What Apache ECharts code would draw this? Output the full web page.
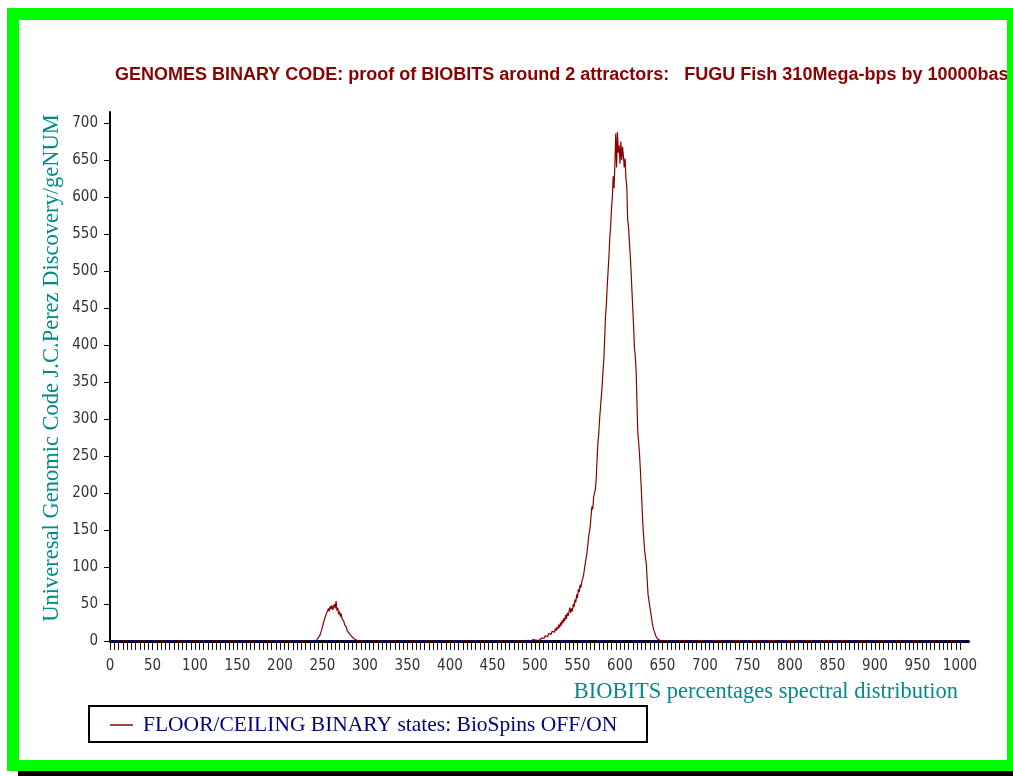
<!DOCTYPE html>
<html><head><meta charset="utf-8">
<script src="https://cdn.jsdelivr.net/npm/echarts@6/dist/echarts.min.js"></script>
<style>html,body{margin:0;padding:0;background:#fff}#c{width:1013px;height:776px}</style>
</head><body><div id="c"></div>
<script>
const titleText = 'GENOMES BINARY CODE: proof of BIOBITS around 2 attractors:   FUGU Fish 310Mega-bps by 10000bases';
const yAxisTitle = 'Univeresal Genomic Code J.C.Perez Discovery/geNUM';
const xAxisTitle = 'BIOBITS percentages spectral distribution';
const seriesName = 'FLOOR/CEILING BINARY states: BioSpins OFF/ON';
const xTickLabels = [0,50,100,150,200,250,300,350,400,450,500,550,600,650,700,750,800,850,900,950,1000];
const yTickLabels = [0,50,100,150,200,250,300,350,400,450,500,550,600,650,700];

// BIOBITS percentage (x) and counts (y)
const bumpX   = [0,240,243,245,247,249,251,253,255,257,258,259,260,261,262,263,264,265,266,267,268,269,270,271,272,273,275,276,278,279,281,283,285,287,289,292];
const bumpY   = [0,0,1,3,8,15,24,32,38,44,40,47,43,48,42,46,50,44,54,41,45,36,40,33,37,30,27,22,19,14,12,8,6,3,1,0];
const riseX   = [488,492,495,498,500,502,504,505,506,507,508,509,510,511,512,513,514,515,516,517,518,519,520,521,522,523,524,525,526,527,528,529,530,531,532,533,534,535,536,537,538,539,540,
                 541,542,543,544,545,546,547,548,549,550,551,552,553,554,555,556,557,558,559,560,561,562,563,564,565,566,567,568,569,570,571,572,573,574,575,576,577,578,579,580];
const riseY   = [0,1,0,2,0,1,2,1,3,2,4,3,6,4,7,5,9,6,10,8,12,9,13,11,15,12,17,14,19,16,22,18,25,21,28,24,31,27,35,30,38,34,36,
                 45,38,44,40,50,46,56,52,63,58,70,66,76,72,80,78,88,96,104,102,118,128,140,138,155,170,182,178,195,200,205,218,245,268,280,300,315,330,345,365];
const peakX   = [581,582,583,584,585,586,587,588,589,590,591,592,593,594,595,596,597,598,599,600,601,602,603,604];
const peakY   = [380,410,440,455,480,500,520,545,560,585,600,628,612,645,686,640,688,660,670,645,675,650,668,655];
const fallX   = [605,606,607,608,609,610,611,612,613,614,615,616,617,618,619,620,621,622,623,624,625,626,627,628,629,630,631,632,633,634,635,636,637,638,639,640,641,642,643,644,645,647,649,1000];
const fallY   = [640,652,625,615,570,560,540,522,500,475,450,425,396,385,365,320,280,268,252,230,207,180,155,138,122,112,104,82,63,55,47,40,32,24,18,14,11,7,5,3,2,1,0,0];

const biobits = bumpX.concat(riseX, peakX, fallX);
const counts = bumpY.concat(riseY, peakY, fallY);

const xTickValues = [];
for (let v = 0; v <= 1000; v += 5) xTickValues.push(v);

const seriesData = biobits.map((x, i) => [x, counts[i]]);

const chart = echarts.init(document.getElementById('c'), null, {renderer: 'canvas'});
chart.setOption({
  animation: false,
  backgroundColor: '#ffffff',
  grid: {left: 110, right: 44.5, top: 112, bottom: 135, containLabel: false},
  legend: {
    left: 110, top: 714, padding: 0,
    icon: 'rect', itemWidth: 23, itemHeight: 1.5,
    textStyle: {fontFamily: 'Liberation Serif', fontSize: 21.5, color: '#000080', padding: [0, 0, 0, 5]},
    data: [seriesName]
  },
  xAxis: {
    type: 'value', min: 0, max: 1010,
    axisLine: {show: true, lineStyle: {color: '#000', width: 3}},
    axisTick: {show: true, customValues: xTickValues, length: 9, lineStyle: {color: '#111', width: 1}},
    axisLabel: {customValues: xTickLabels, formatter: (v) => String(v), margin: 18, fontFamily: "'DejaVu Sans Condensed', 'Liberation Sans'", fontSize: 15, color: '#333'},
    splitLine: {show: false}
  },
  yAxis: {
    type: 'value', min: 0, max: 715,
    axisLine: {show: true, lineStyle: {color: '#000', width: 2}},
    axisTick: {show: true, customValues: yTickLabels, length: 6, lineStyle: {color: '#000', width: 1}},
    axisLabel: {customValues: yTickLabels, formatter: (v) => String(v), margin: 12, fontFamily: "'DejaVu Sans Condensed', 'Liberation Sans'", fontSize: 15, color: '#333'},
    splitLine: {show: false}
  },
  series: [{
    name: seriesName,
    type: 'line',
    data: seriesData,
    symbol: 'none',
    lineStyle: {color: '#8b0000', width: 1.2},
    itemStyle: {color: '#8b0000'},
    markLine: {
      silent: true, symbol: 'none', label: {show: false},
      lineStyle: {color: '#00008b', width: 1.5, type: [11, 7]},
      data: [{yAxis: 0}]
    }
  }],
  graphic: [
    {type: 'text', x: 115, y: 75, z: 10, style: {text: titleText, fill: '#8b0000', font: 'bold 18px "Liberation Sans", Arial, sans-serif', align: 'left', verticalAlign: 'middle'}},
    {type: 'text', x: 52, y: 368, rotation: Math.PI / 2, z: 10, style: {text: yAxisTitle, fill: '#008b8b', font: '22.5px "Liberation Serif", serif', align: 'center', verticalAlign: 'middle'}},
    {type: 'text', x: 958, y: 692, z: 10, style: {text: xAxisTitle, fill: '#008b8b', font: '22.5px "Liberation Serif", serif', align: 'right', verticalAlign: 'middle'}},
    {type: 'rect', shape: {x: 89, y: 706, width: 558, height: 36}, z: 10, style: {fill: 'none', stroke: '#000', lineWidth: 2}},
    {type: 'rect', shape: {x: 7, y: 8, width: 1006, height: 12}, z: 100, style: {fill: '#00ff00'}},
    {type: 'rect', shape: {x: 7, y: 8, width: 12, height: 763}, z: 100, style: {fill: '#00ff00'}},
    {type: 'rect', shape: {x: 1007, y: 8, width: 6, height: 763}, z: 100, style: {fill: '#00ff00'}},
    {type: 'rect', shape: {x: 7, y: 760, width: 1006, height: 11}, z: 100, style: {fill: '#00ff00'}},
    {type: 'rect', shape: {x: 18, y: 771, width: 995, height: 5}, z: 100, style: {fill: '#000'}}
  ]
});
</script>
</body></html>
